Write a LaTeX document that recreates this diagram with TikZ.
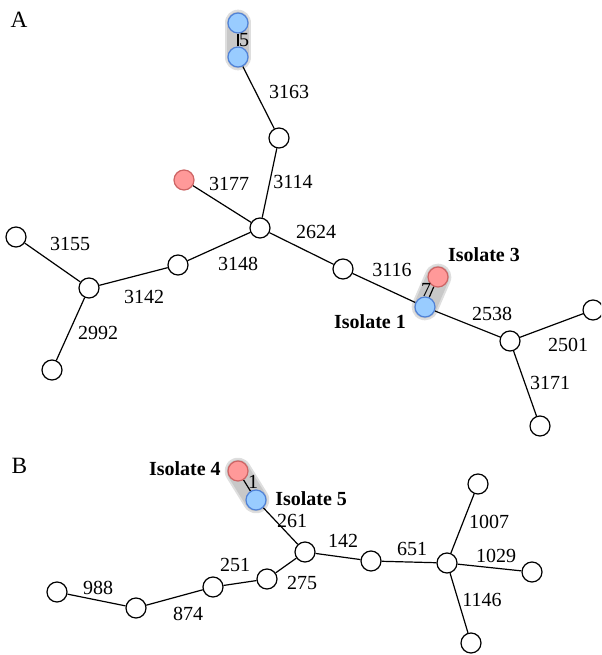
\documentclass[tikz,border=0pt]{standalone}
\usepackage{fontspec}
\setmainfont{Liberation Serif}
\usetikzlibrary{backgrounds}
\definecolor{bluefill}{RGB}{153,204,255}
\definecolor{blueedge}{RGB}{80,130,215}
\definecolor{redfill}{RGB}{255,153,153}
\definecolor{rededge}{RGB}{205,100,100}
\definecolor{haloedge}{RGB}{222,222,222}
\definecolor{halofill}{RGB}{200,200,200}
\tikzset{
  st/.style={circle,draw=black,line width=0.9pt,fill=white,minimum size=15pt,inner sep=0pt},
  blu/.style={st,draw=blueedge,fill=bluefill},
  rd/.style={st,draw=rededge,fill=redfill},
  lbl/.style={font=\fontsize{15}{18}\selectfont,inner sep=0pt},
  panel/.style={font=\fontsize{17.5}{20}\selectfont,inner sep=0pt},
  iso/.style={lbl,font=\fontsize{15}{18}\selectfont\bfseries},
  link/.style={line width=0.9pt},
  haloout/.style={line width=20pt,line cap=round,draw=haloedge},
  haloin/.style={line width=17pt,line cap=round,draw=halofill},
}
\begin{document}
\begin{tikzpicture}[x=0.75pt,y=-0.75pt]
\useasboundingbox (0,0) rectangle (601,655);
\clip (0,0) rectangle (601,655);

\node[panel] (labA) at (19,20) {A};
\node[panel] (labB) at (19.5,466) {B};

% ---- panel A nodes ----
\node[blu] (a1) at (238,23) {};
\node[blu] (a2) at (238,57) {};
\node[st]  (a3) at (279,138) {};
\node[st]  (hA) at (260,228) {};
\node[rd]  (a4) at (184,180) {};
\node[st]  (a5) at (178,265) {};
\node[st]  (a6) at (89,288) {};
\node[st]  (a7) at (16,237) {};
\node[st]  (a8) at (52,370) {};
\node[st]  (a9) at (343,269) {};
\node[blu] (i1) at (425,307) {};
\node[rd]  (i3) at (438,277) {};
\node[st]  (hB) at (510,341) {};
\node[st]  (a10) at (593,310) {};
\node[st]  (a11) at (540,426) {};

% ---- panel B nodes ----
\node[rd]  (i4) at (238,471) {};
\node[blu] (i5) at (256,500) {};
\node[st]  (b1) at (305,552) {};
\node[st]  (b2) at (371,561) {};
\node[st]  (b3) at (447,563) {};
\node[st]  (b4) at (478,484) {};
\node[st]  (b5) at (532,572) {};
\node[st]  (b6) at (471,643) {};
\node[st]  (b7) at (267,579) {};
\node[st]  (b8) at (213,587) {};
\node[st]  (b9) at (136,608) {};
\node[st]  (b10) at (57,592) {};

\begin{scope}[on background layer]
  % grey highlight around identical-cluster pairs
  \draw[haloout] (a1.center) -- (a2.center);
  \draw[haloin]  (a1.center) -- (a2.center);
  \draw[haloout] (i3.center) -- (i1.center);
  \draw[haloin]  (i3.center) -- (i1.center);
  \draw[haloout] (i4.center) -- (i5.center);
  \draw[haloin]  (i4.center) -- (i5.center);
  % edges, panel A
  \draw[link] (a1) -- (a2);
  \draw[link] (a2) -- (a3);
  \draw[link] (a3) -- (hA);
  \draw[link] (a4) -- (hA);
  \draw[link] (hA) -- (a5);
  \draw[link] (a5) -- (a6);
  \draw[link] (a6) -- (a7);
  \draw[link] (a6) -- (a8);
  \draw[link] (hA) -- (a9);
  \draw[link] (a9) -- (i1);
  \draw[link] (i1) -- (i3);
  \draw[link] (i1) -- (hB);
  \draw[link] (hB) -- (a10);
  \draw[link] (hB) -- (a11);
  % edges, panel B
  \draw[link] (i4) -- (i5);
  \draw[link] (i5) -- (b1);
  \draw[link] (b1) -- (b2);
  \draw[link] (b2) -- (b3);
  \draw[link] (b3) -- (b4);
  \draw[link] (b3) -- (b5);
  \draw[link] (b3) -- (b6);
  \draw[link] (b1) -- (b7);
  \draw[link] (b7) -- (b8);
  \draw[link] (b8) -- (b9);
  \draw[link] (b9) -- (b10);
\end{scope}

% ---- distance labels, panel A ----
\node[lbl] (d1) at (244,40) {5};
\node[lbl] (d2) at (289,92) {3163};
\node[lbl] (d3) at (229,184) {3177};
\node[lbl] (d4) at (293,182) {3114};
\node[lbl] (d5) at (316,232) {2624};
\node[lbl] (d6) at (238,264) {3148};
\node[lbl] (d7) at (70,244) {3155};
\node[lbl] (d8) at (144,297) {3142};
\node[lbl] (d9) at (98,333) {2992};
\node[lbl] (d10) at (392,270) {3116};
\node[lbl] (d11) at (426,290) {7};
\node[lbl] (d12) at (492,314) {2538};
\node[lbl] (d13) at (568,345) {2501};
\node[lbl] (d14) at (550,383) {3171};
\node[iso] (n3) at (484,255) {Isolate 3};
\node[iso] (n1) at (370,322) {Isolate 1};

% ---- distance labels, panel B ----
\node[lbl] (e1) at (253,482) {1};
\node[lbl] (e2) at (292,521) {261};
\node[lbl] (e3) at (343,541) {142};
\node[lbl] (e4) at (412,549) {651};
\node[lbl] (e5) at (489,522) {1007};
\node[lbl] (e6) at (496,556) {1029};
\node[lbl] (e7) at (482,600) {1146};
\node[lbl] (e8) at (302,583) {275};
\node[lbl] (e9) at (235,565) {251};
\node[lbl] (e10) at (188,614) {874};
\node[lbl] (e11) at (98,588) {988};
\node[iso,anchor=east] (n4) at (221,469) {Isolate 4};
\node[iso,anchor=west] (n5) at (275,499) {Isolate 5};
\end{tikzpicture}
\end{document}
